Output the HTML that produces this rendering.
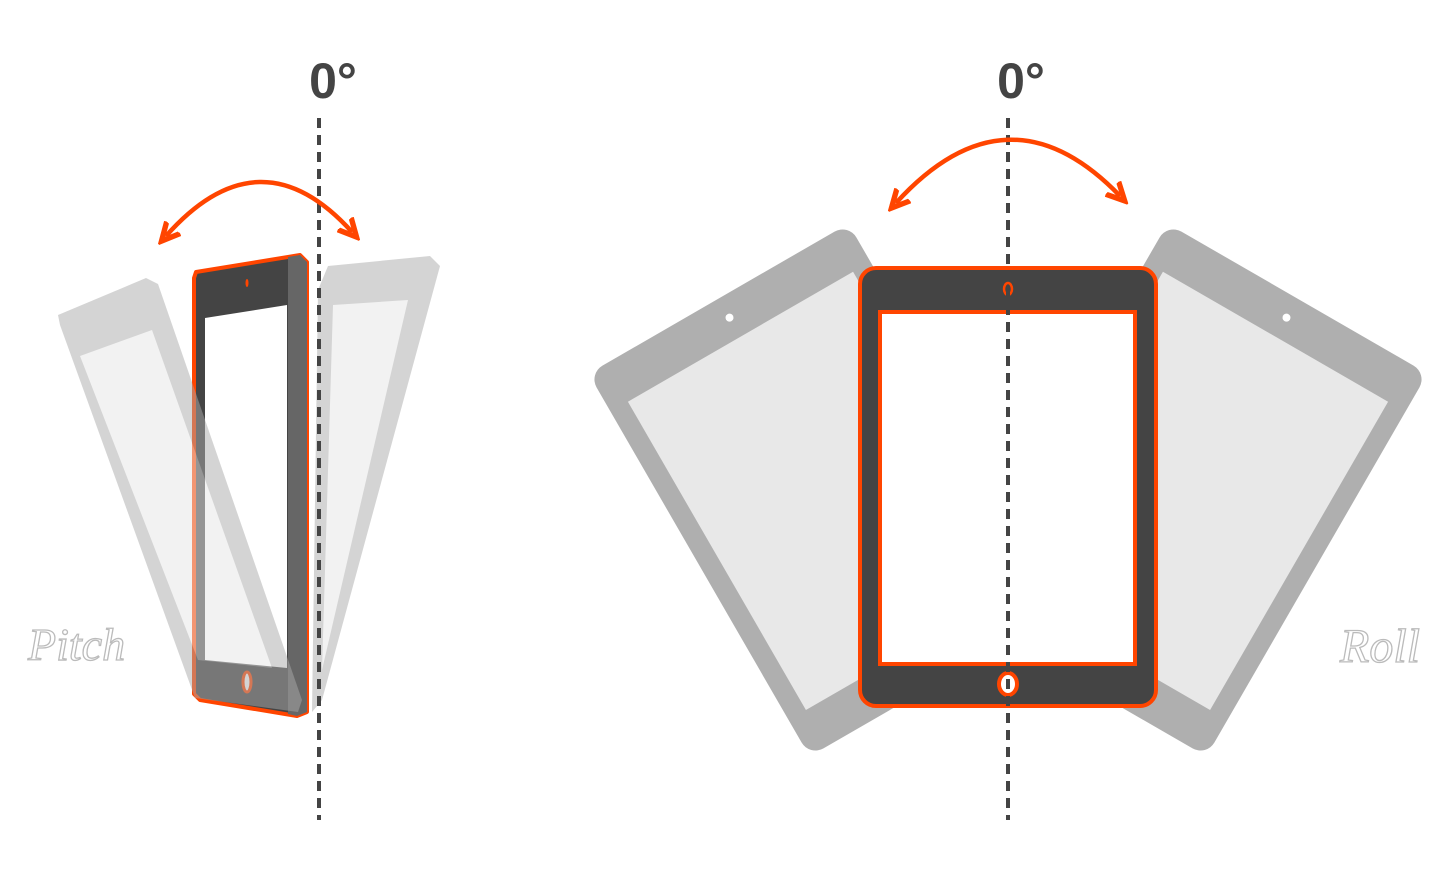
<!DOCTYPE html>
<html><head><meta charset="utf-8"><style>
html,body{margin:0;padding:0;background:#fff;}
svg{display:block;}
</style></head><body>
<svg width="1456" height="878" viewBox="0 0 1456 878" xmlns="http://www.w3.org/2000/svg">
<defs>
<marker id="ah" viewBox="0 0 10 10" refX="5" refY="5" markerWidth="5" markerHeight="5" orient="auto-start-reverse">
<path d="M0,1 L8,5 L0,9" fill="none" stroke="#ff4500" stroke-width="2.4"/>
</marker>
</defs>
<rect width="1456" height="878" fill="#fff"/>

<!-- PITCH -->
<g>
<g>
<polygon points="196,272 300,255 307,262 307,712 297,716 200,700 194,694 194,278" fill="#444" stroke="#ff4500" stroke-width="4" stroke-linejoin="round"/>
<polygon points="288,257 300,255 307,262 307,712 297,716 288,714" fill="#666"/>
<polygon points="205,318 287,305 287,668 205,660" fill="#fff"/>
<ellipse cx="247" cy="283" rx="1.5" ry="4" fill="#ff4500"/>
<ellipse cx="247" cy="682" rx="4" ry="10" fill="#fff" stroke="#ff4500" stroke-width="3"/>
</g>
<g opacity="0.5">
<polygon points="58,315 146,278 158,284 302,700 298,712 195,698 60,325" fill="#aaa"/>
<polygon points="80,356 152,330 272,668 198,660" fill="#e6e6e6"/>
</g>
<g opacity="0.5">
<polygon points="328,266 430,256 440,266 322,700 312,712 318,290" fill="#aaa"/>
<polygon points="333,305 408,300 322,670" fill="#e6e6e6"/>
</g>
<line x1="319" y1="118" x2="319" y2="820" stroke="#444" stroke-width="4" stroke-dasharray="10,7"/>
<path d="M166,236 Q260,130 352,232" fill="none" stroke="#ff4500" stroke-width="4.5" marker-start="url(#ah)" marker-end="url(#ah)"/>
<text x="333" y="98" text-anchor="middle" font-family="Liberation Sans, sans-serif" font-weight="bold" font-size="50" fill="#444">0°</text>
<text x="28" y="660" font-family="Liberation Serif, serif" font-style="italic" font-size="46" fill="none" stroke="#bbb" stroke-width="1.3">Pitch</text>
</g>

<!-- ROLL -->
<g>
<g transform="translate(829,490) rotate(-30)">
<rect x="-150" y="-221" width="300" height="442" rx="16" fill="#afafaf"/>
<rect x="-130" y="-177" width="260" height="356" fill="#e8e8e8"/>
<ellipse cx="0" cy="-199" rx="4" ry="4" fill="#fff"/>
</g>
<g transform="translate(1187,490) rotate(30)">
<rect x="-150" y="-221" width="300" height="442" rx="16" fill="#afafaf"/>
<rect x="-130" y="-177" width="260" height="356" fill="#e8e8e8"/>
<ellipse cx="0" cy="-199" rx="4" ry="4" fill="#fff"/>
</g>
<g>
<rect x="860" y="268" width="296" height="438" rx="16" fill="#444" stroke="#ff4500" stroke-width="4"/>
<rect x="880" y="312" width="255" height="352" fill="#fff" stroke="#ff4500" stroke-width="4"/>
<ellipse cx="1008" cy="289" rx="4" ry="6" fill="#444" stroke="#ff4500" stroke-width="2.5"/>
<ellipse cx="1008" cy="684" rx="9" ry="11" fill="#fff" stroke="#ff4500" stroke-width="4"/>
</g>
<line x1="1008" y1="118" x2="1008" y2="820" stroke="#444" stroke-width="4" stroke-dasharray="10,7"/>
<path d="M896,203 Q1008,80 1120,196" fill="none" stroke="#ff4500" stroke-width="4.5" marker-start="url(#ah)" marker-end="url(#ah)"/>
<text x="1021" y="98" text-anchor="middle" font-family="Liberation Sans, sans-serif" font-weight="bold" font-size="50" fill="#444">0°</text>
<text x="1340" y="662" font-family="Liberation Serif, serif" font-style="italic" font-size="48" fill="none" stroke="#bbb" stroke-width="1.3">Roll</text>
</g>
</svg>
</body></html>
